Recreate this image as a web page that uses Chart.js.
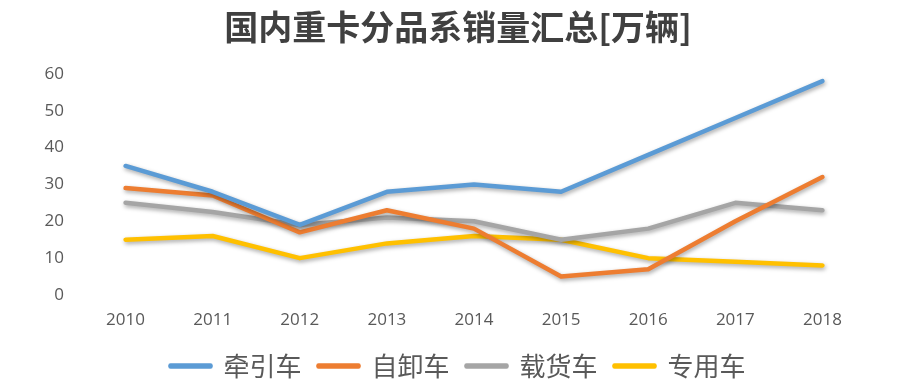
<!DOCTYPE html>
<html>
<head>
<meta charset="utf-8">
<script src="https://cdn.jsdelivr.net/npm/chart.js@4"></script>
<style>
  html, body { margin: 0; padding: 0; background: #fff; }
  #wrap { width: 900px; height: 386px; }
</style>
</head>
<body>
<div id="wrap"><canvas id="myChart"></canvas></div>
<script>
// Kategorier (år)
const years = ['2010', '2011', '2012', '2013', '2014', '2015', '2016', '2017', '2018'];

// Serier, i 万辆
const qianyin = [35, 28, 19, 28, 30, 28, 38, 48, 58];   // 牵引车
const zixie   = [29, 27, 17, 23, 18, 5, 7, 20, 32];     // 自卸车
const zaihuo  = [25, 22.5, 19, 21, 20, 15, 18, 25, 23]; // 载货车
const zhuanyong = [15, 16, 10, 14, 16, 15, 10, 9, 8];   // 专用车

const seriesNames = ['牵引车', '自卸车', '载货车', '专用车'];
const yTicks = [0, 10, 20, 30, 40, 50, 60];

const colors = ['#5B9BD5', '#ED7D31', '#A5A5A5', '#FFC000'];

// Skygge under linjene, som i Excel
const shadowPlugin = {
  id: 'lineShadow',
  beforeDatasetDraw(chart) {
    const ctx = chart.ctx;
    ctx.save();
    ctx.shadowColor = 'rgba(0,0,0,0.35)';
    ctx.shadowBlur = 4;
    ctx.shadowOffsetX = 1;
    ctx.shadowOffsetY = 2;
  },
  afterDatasetDraw(chart) {
    chart.ctx.restore();
  }
};

// Legenden litt lavere ned mot kanten
const legendFitPlugin = {
  id: 'legendFit',
  beforeLayout(chart) {
    const lg = chart.legend;
    if (lg && !lg._patched) {
      const fit = lg.fit.bind(lg);
      lg.fit = function () {
        fit();
        this.height -= 3;
      };
      lg._patched = true;
    }
  }
};

function lag(label, data, color) {
  return {
    label: label,
    data: data,
    borderColor: color,
    backgroundColor: color,
    borderWidth: 4.5,
    pointRadius: 0,
    tension: 0,
    borderCapStyle: 'round',
    borderJoinStyle: 'round'
  };
}

const ctx = document.getElementById('myChart').getContext('2d');
new Chart(ctx, {
  type: 'line',
  data: {
    labels: years,
    datasets: [
      lag(seriesNames[0], qianyin, colors[0]),
      lag(seriesNames[1], zixie, colors[1]),
      lag(seriesNames[2], zaihuo, colors[2]),
      lag(seriesNames[3], zhuanyong, colors[3])
    ]
  },
  options: {
    responsive: true,
    maintainAspectRatio: false,
    animation: false,
    layout: { padding: { left: 16, right: 0, top: 0, bottom: 0 } },
    plugins: {
      title: {
        display: true,
        text: '国内重卡分品系销量汇总[万辆]',
        color: '#404040',
        font: { family: '"Noto Sans CJK SC"', size: 34, weight: 'bold' },
        padding: { top: 7, bottom: 26 }
      },
      legend: {
        position: 'bottom',
        labels: {
          color: '#595959',
          font: { family: '"Noto Sans CJK SC"', size: 26 },
          boxWidth: 40,
          boxHeight: 1,
          padding: 17
        }
      },
      tooltip: { enabled: false }
    },
    scales: {
      x: {
        offset: true,
        grid: { display: false, drawTicks: false },
        border: { display: false },
        afterFit(scale) {
          scale.height = 41;
        },
        ticks: {
          color: '#595959',
          font: { family: '"Open Sans"', size: 17 },
          padding: 15,
          maxRotation: 0
        }
      },
      y: {
        min: 0,
        max: 60,
        grid: { display: false, drawTicks: false },
        border: { display: false },
        afterBuildTicks(scale) {
          scale.ticks = yTicks.map(v => ({ value: v }));
        },
        afterFit(scale) {
          scale.width = 66;
        },
        ticks: {
          color: '#595959',
          font: { family: '"Open Sans"', size: 17 },
          padding: 18
        }
      },
      // tom akse til høyre, bare for plass
      y2: {
        position: 'right',
        grid: { display: false, drawTicks: false },
        border: { display: false },
        ticks: { display: false },
        afterFit(scale) {
          scale.width = 34;
        }
      }
    }
  },
  plugins: [shadowPlugin, legendFitPlugin]
});
</script>
</body>
</html>
